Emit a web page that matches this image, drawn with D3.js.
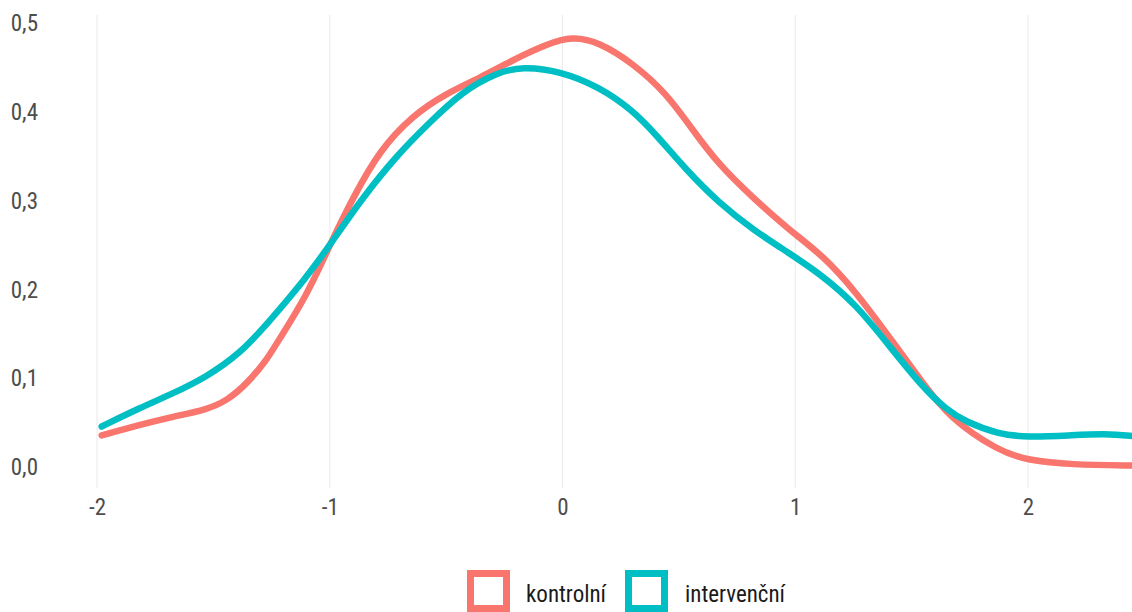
<!DOCTYPE html>
<html>
<head>
<meta charset="utf-8">
<script src="https://cdn.jsdelivr.net/npm/d3@7"></script>
<style>
  html, body { margin: 0; padding: 0; background: #fff; }
  svg { display: block; font-family: "Roboto Condensed", Roboto, "Liberation Sans Narrow", sans-serif; }
</style>
</head>
<body>
<svg id="chart" width="1132" height="612"></svg>
<script>
// Density estimates of the score for the two groups
const groups = ["kontrolní", "intervenční"];
const colors = ["#F8766D", "#00BFC4"];

const kontrolniX = [-1.98, -1.815, -1.674, -1.528, -1.442, -1.356, -1.27, -1.227, -1.099, -1.0, -0.901, -0.785, -0.644, -0.498, -0.356, -0.215, -0.069, 0.043, 0.159, 0.30, 0.446, 0.558, 0.67, 0.815, 0.974, 1.116, 1.262, 1.403, 1.545, 1.66, 1.876, 2.0, 2.18, 2.46];
const kontrolniY = [0.035, 0.047, 0.056, 0.064, 0.074, 0.093, 0.120, 0.139, 0.192, 0.249, 0.302, 0.356, 0.395, 0.420, 0.437, 0.457, 0.475, 0.484, 0.477, 0.454, 0.420, 0.379, 0.340, 0.303, 0.266, 0.238, 0.196, 0.146, 0.095, 0.055, 0.017, 0.007, 0.002, 0.001];

const intervencniX = [-1.98, -1.815, -1.674, -1.528, -1.386, -1.27, -1.099, -1.0, -0.86, -0.712, -0.571, -0.429, -0.283, -0.172, -0.013, 0.159, 0.30, 0.403, 0.53, 0.67, 0.82, 0.974, 1.116, 1.262, 1.403, 1.545, 1.648, 1.734, 1.876, 2.0, 2.18, 2.33, 2.46];
const intervencniY = [0.045, 0.066, 0.082, 0.101, 0.127, 0.160, 0.213, 0.249, 0.302, 0.350, 0.387, 0.422, 0.443, 0.450, 0.445, 0.427, 0.401, 0.373, 0.334, 0.297, 0.266, 0.240, 0.215, 0.182, 0.136, 0.090, 0.064, 0.050, 0.036, 0.033, 0.035, 0.037, 0.034];

const xTicks = [-2, -1, 0, 1, 2];
const yTicks = [0, 0.1, 0.2, 0.3, 0.4, 0.5];

const series = [
  { name: groups[0], color: colors[0], pts: kontrolniX.map((x, i) => [x, kontrolniY[i]]) },
  { name: groups[1], color: colors[1], pts: intervencniX.map((x, i) => [x, intervencniY[i]]) }
];

const svg = d3.select("#chart");

const x = d3.scaleLinear().domain([-2, 2]).range([97, 1028]);
const y = d3.scaleLinear().domain([0, 0.5]).range([466.5, 22]);

const fmt = v => d3.format(".1f")(v).replace(".", ",");

// vertical grid lines only
svg.append("g")
  .selectAll("line")
  .data(xTicks)
  .join("line")
  .attr("x1", d => x(d)).attr("x2", d => x(d))
  .attr("y1", 15).attr("y2", 488)
  .attr("stroke", "#ebebeb")
  .attr("stroke-width", 1.1);

function styleAxis(g) {
  g.attr("font-family", null).attr("font-size", null);
  g.select(".domain").remove();
  g.selectAll("text")
    .attr("fill", "#4d4d4d")
    .attr("font-size", 23);
}

// x axis labels
const xAxis = d3.axisBottom(x).tickValues(xTicks).tickSize(0).tickPadding(0).tickFormat(d => String(d));
svg.append("g")
  .attr("transform", "translate(0,499)")
  .call(xAxis)
  .call(styleAxis);

// y axis labels
const yAxis = d3.axisLeft(y).tickValues(yTicks).tickSize(0).tickPadding(0).tickFormat(fmt);
svg.append("g")
  .attr("transform", "translate(38,1)")
  .call(yAxis)
  .call(styleAxis);

// density curves
const line = d3.line()
  .x(d => x(d[0]))
  .y(d => y(d[1]))
  .curve(d3.curveBasis);

svg.append("g")
  .selectAll("path")
  .data(series)
  .join("path")
  .attr("d", d => line(d.pts))
  .attr("fill", "none")
  .attr("stroke", d => d.color)
  .attr("stroke-width", 6.5)
  .attr("stroke-linecap", "round")
  .attr("stroke-linejoin", "round");

// legend
const legendItems = [
  { name: groups[0], color: colors[0], bx: 470.5, tx: 526 },
  { name: groups[1], color: colors[1], bx: 628.5, tx: 685 }
];
const lg = svg.append("g");
lg.selectAll("rect")
  .data(legendItems)
  .join("rect")
  .attr("x", d => d.bx).attr("y", 573.5)
  .attr("width", 36).attr("height", 35)
  .attr("fill", "none")
  .attr("stroke", d => d.color)
  .attr("stroke-width", 7);
lg.selectAll("text")
  .data(legendItems)
  .join("text")
  .attr("x", d => d.tx).attr("y", 602)
  .attr("font-size", 23)
  .attr("fill", "#1a1a1a")
  .text(d => d.name);
</script>
</body>
</html>
